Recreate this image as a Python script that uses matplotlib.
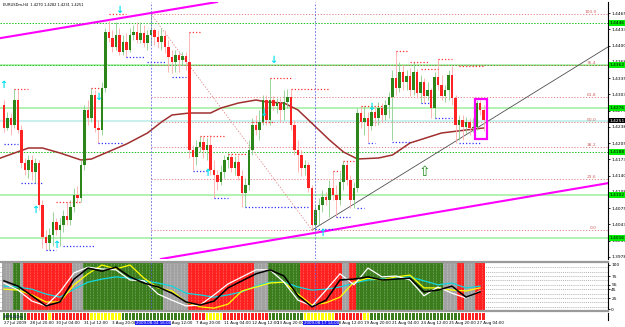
import numpy as np
import matplotlib
matplotlib.use("Agg")
import matplotlib.pyplot as plt
from matplotlib.patches import Rectangle
from matplotlib.transforms import blended_transform_factory as blend

# ─── Data: EURUSDm H4, prices as pips above 1.4000 ─────────────────────────
BASE = 1.4000
closes = [236, 256, 242, 292, 232, 166, 152, 172, 148, 166,
          82, 18, 6, 22, 48, 32, 42, 60, 52, 78,
          102, 96, 162, 272, 256, 302, 236, 232, 316, 428,
          416, 398, 422, 388, 408, 392, 422, 428, 412, 426,
          406, 422, 432, 418, 408, 420, 398, 378, 368, 382,
          372, 380, 368, 192, 178, 198, 208, 192, 202, 152,
          142, 128, 148, 172, 178, 156, 168, 140, 106, 122,
          192, 242, 232, 248, 292, 252, 292, 280, 286, 272,
          288, 298, 242, 192, 182, 156, 162, 116, 42, 72,
          82, 98, 92, 116, 102, 92, 128, 162, 132, 92,
          116, 266, 248, 256, 240, 268, 256, 276, 262, 282,
          298, 336, 316, 348, 328, 340, 312, 348, 306, 328,
          300, 312, 276, 338, 322, 300, 312, 342, 296, 242,
          252, 238, 248, 236, 238, 286, 272, 251]
highs = [292, 268, 266, 314, 312, 242, 176, 182, 182, 176,
         172, 92, 32, 36, 68, 56, 56, 72, 88, 92,
         116, 120, 172, 282, 292, 316, 312, 252, 328, 436,
         452, 432, 448, 436, 422, 426, 436, 442, 448, 448,
         442, 432, 464, 436, 432, 436, 432, 412, 392, 392,
         388, 388, 388, 428, 202, 212, 220, 220, 216, 222,
         172, 152, 162, 182, 186, 184, 180, 182, 152, 136,
         212, 256, 262, 272, 302, 302, 336, 300, 296, 296,
         312, 314, 314, 252, 212, 192, 172, 168, 122, 82,
         96, 112, 108, 132, 150, 122, 148, 170, 170, 142,
         128, 276, 280, 280, 268, 278, 278, 288, 286, 292,
         308, 352, 390, 368, 362, 352, 356, 368, 354, 342,
         336, 328, 316, 348, 374, 342, 322, 352, 360, 302,
         262, 262, 258, 256, 256, 292, 292, 282]
lows = [228, 232, 222, 236, 226, 156, 142, 136, 132, 126,
        72, -4, -8, -8, 0, 22, 0, 28, 42, 42,
        68, 86, 88, 152, 242, 248, 228, 206, 222, 308,
        408, 388, 392, 382, 382, 378, 388, 412, 406, 406,
        398, 392, 402, 402, 396, 392, 386, 348, 346, 348,
        348, 362, 352, 176, 152, 162, 188, 176, 172, 142,
        96, 112, 122, 136, 156, 148, 142, 132, 78, 78,
        112, 182, 222, 212, 242, 242, 242, 272, 266, 248,
        252, 276, 232, 182, 148, 140, 142, 108, 32, 32,
        42, 68, 82, 58, 92, 58, 82, 112, 122, 76,
        76, 108, 236, 222, 208, 232, 240, 242, 248, 252,
        256, 212, 302, 308, 312, 312, 300, 302, 296, 286,
        286, 292, 256, 256, 312, 292, 288, 292, 282, 206,
        212, 212, 226, 222, 228, 232, 262, 231]
first_open = 282
opens = [first_open] + closes[:-1]

# moving average (bar, pips)
ma_bars = [-1, 3, 7, 11, 16, 22, 25, 29, 35, 41, 45, 48, 53, 59, 62, 67,
           72, 75, 80, 84, 87, 90, 93, 97, 101, 107, 111, 116, 125, 132, 137]
ma_vals = [176, 186, 196, 196, 186, 172, 174, 186, 204, 226, 248, 262, 266,
           266, 276, 286, 292, 288, 286, 272, 252, 232, 212, 188, 174, 176,
           182, 206, 226, 232, 236]

# horizontal levels (pips)
green_dotted = [446, 362, 188]
pale_green = [362, 276, 102, 16]
boxed_levels = [446, 362, 276, 188, 102, 16]
fib_high, fib_low = 464, 32
fib_bars = (42, 88)
fib_levels = [100.0, 76.4, 61.8, 50.0, 38.2, 23.6, 0.0]
separators = [42, 89]

# trend lines ((bar, pips), (bar, pips))
upper_channel = ((0, 417), (60, 487))
lower_channel = ((44, -27), (172, 125))
black_trend = ((88, 32), (173, 400))

# fractal markers: (start bar, end bar, pips)
red_dots = [(30, 35, 464), (53, 56, 428), (3, 7, 314), (25, 28, 316), (76, 82, 336),
            (82, 93, 314), (112, 115, 390), (71, 77, 248), (102, 109, 280),
            (116, 121, 368), (119, 124, 354), (124, 128, 374), (130, 137, 360),
            (15, 22, 88), (56, 63, 220), (64, 70, 184), (94, 96, 150), (97, 100, 170)]
blue_dots = [(35, 40, 378), (41, 46, 368), (48, 52, 338), (0, 4, 204), (5, 11, 126),
             (12, 15, -8), (17, 26, 0), (27, 34, 206), (54, 58, 150), (60, 64, 96),
             (69, 87, 78), (95, 99, 58), (101, 103, 76), (104, 106, 206), (111, 116, 208),
             (89, 94, 34), (119, 122, 286), (123, 128, 256), (130, 136, 206)]
arrows_down = [(33, 472), (27, 298), (77, 372), (74, 266), (105, 278)]
arrows_up = [(-0.3, 322), (9, 72), (15, 2), (58, 146), (91, 26)]
signal_up = (120, 148)
box_bars, box_pips = (134.6, 138.0), (214, 294)

price_ticks = [1.4465, 1.4433, 1.4400, 1.4368, 1.4335, 1.4303, 1.4270, 1.4238,
               1.4205, 1.4173, 1.4140, 1.4108, 1.4075, 1.4043, 1.4010, 1.3978]

# oscillator panel (sampled every 4 bars)
ind_bars = list(range(0, 137, 4))
osc_black = [64, 52, 30, 7, 16, 68, 93, 86, 95, 73, 59, 50, 36, 16, 9, 18, 48, 64,
             80, 89, 75, 30, 5, 20, 66, 68, 73, 66, 68, 70, 39, 43, 52, 27, 39]
osc_white = [59, 43, 18, 7, 39, 82, 95, 91, 89, 66, 64, 34, 20, 7, 9, 32, 57, 73,
             89, 89, 61, 20, 7, 43, 80, 55, 93, 73, 75, 66, 30, 50, 36, 25, 41]
osc_cyan = [52, 50, 45, 34, 27, 45, 61, 68, 73, 70, 64, 59, 52, 36, 32, 27, 32, 39,
            52, 61, 61, 50, 43, 45, 50, 59, 66, 68, 70, 73, 64, 55, 59, 48, 52]
osc_yellow = [45, 43, 32, 16, 16, 55, 80, 100, 91, 100, 70, 48, 41, 16, 5, 2, 11, 41,
              50, 59, 61, 34, 9, 14, 27, 61, 70, 66, 73, 77, 48, 48, 43, 41, 48]
osc_levels = [5, 15, 25, 35, 45, 55, 65, 75, 85, 95]
osc_ticks = [100, 75, 55, 45, 25, 0]
bg_runs = [("gray", 3), ("green", 2), ("gray", 1), ("red", 14), ("gray", 3), ("green", 23),
           ("gray", 7), ("red", 19), ("gray", 4), ("green", 9), ("red", 12), ("gray", 2),
           ("red", 2), ("green", 25), ("gray", 4), ("red", 2), ("gray", 3), ("red", 3)]
strip_runs = [("green", 7), ("red", 6), ("yellow", 1), ("red", 11), ("yellow", 9),
              ("green", 20), ("red", 4), ("yellow", 5), ("red", 13), ("green", 10),
              ("yellow", 9), ("red", 8), ("yellow", 2), ("green", 26), ("red", 7)]

date_bars = [0, 7.4, 15, 23, 31, 47, 55, 63, 71, 78.0, 95, 103, 111, 119, 127, 135]
date_labels = ["27 Jul 2009", "28 Jul 20:00", "30 Jul 04:00", "31 Jul 12:00",
               "3 Aug 20:00", "6 Aug 12:00", "7 Aug 20:00", "11 Aug 04:00",
               "12 Aug 12:00", "13 Aug 20:00", "18 Aug 12:00", "19 Aug 20:00",
               "21 Aug 04:00", "24 Aug 12:00", "25 Aug 20:00", "27 Aug 04:00"]
sep_labels = ["2009.08.04 16:00", "2009.08.17 14:00"]
sep_label_bars = [42.6, 90.6]
title = "EURUSDm,H4  1.4270 1.4282 1.4231 1.4251"

# ─── Colours ─────────────────────────────────────────────────────────────
COL = {"red": "#ff2020", "green": "#3b7d1c", "gray": "#a2a2a2", "yellow": "#ffff00"}
BULL, BEAR = "#2c8518", "#ff2222"
SMALL = 3.2


def P(v):
    return BASE + np.asarray(v, dtype=float) / 10000.0


# ─── Figure layout (pixel boxes) ─────────────────────────────────────────
W, H = 625, 327
fig = plt.figure(figsize=(W / 100, H / 100), dpi=100)
fig.patch.set_facecolor("white")


def box(x0, y0, x1, y1):
    return [x0 / W, 1 - y1 / H, (x1 - x0) / W, (y1 - y0) / H]


ax = fig.add_axes(box(0, 2, 608, 259))
axi = fig.add_axes(box(0, 262, 608, 311))
axs = fig.add_axes(box(0, 313, 608, 320))
XL = (-1.14, 172.57)
for a in (ax, axi, axs):
    a.set_xlim(*XL)
    for s in ("left", "top", "bottom"):
        a.spines[s].set_visible(False)
    a.spines["right"].set_linewidth(0.8)
    a.set_xticks([])

# ─── Main price panel ────────────────────────────────────────────────────
ax.set_ylim(P(-26), P(488))
ax.yaxis.tick_right()
ax.set_yticks(price_ticks)
ax.set_yticklabels([f"{t:.4f}" for t in price_ticks])
ax.tick_params(axis="y", labelsize=SMALL, length=1.5, pad=0.8, width=0.6)

xr = np.arange(len(closes))
o, c, h, l = (np.array(v, dtype=float) for v in (opens, closes, highs, lows))
span = (fib_bars[0], XL[1])

for lv in pale_green:
    ax.axhline(P(lv), color="#b2f2b2", lw=1.4, zorder=1)
for lv in green_dotted:
    ax.axhline(P(lv), color="#22c022", lw=0.7, ls=(0, (1.5, 1.5)), zorder=1.2)
ax.axhline(P(closes[-1]), color="#c0eeea", lw=1.2, zorder=1)

for lv in fib_levels:
    yv = P(fib_low + (fib_high - fib_low) * lv / 100)
    ax.hlines(yv, *span, color="#e07878", lw=0.6, ls=(0, (1.5, 2)), zorder=1.3)
    ax.text(169.3, yv, f"{lv:.1f}", fontsize=SMALL, color="#d06060", ha="right",
            va="bottom")
ax.plot(fib_bars, P([fib_high, fib_low]), color="#e08080", lw=0.6,
        ls=(0, (1.5, 2)), zorder=1.3)

for b in separators:
    for a in (ax, axi):
        a.axvline(b, color="#6060e0", lw=0.6, ls=(0, (2, 2)), zorder=5)

for (b0, v0), (b1, v1) in (upper_channel, lower_channel):
    ax.axline((b0, P(v0)), (b1, P(v1)), color="#ff00ff", lw=1.5, zorder=2)
ax.plot([black_trend[0][0], black_trend[1][0]], P([black_trend[0][1], black_trend[1][1]]),
        color="#505050", lw=0.6, zorder=2)

ax.plot(ma_bars, P(ma_vals), color="#a03030", lw=1.1, zorder=3)

for b0, b1, v in red_dots:
    ax.hlines(P(v), b0, b1, color="#ff3030", lw=0.9, ls=(0, (1, 1.6)), zorder=4)
for b0, b1, v in blue_dots:
    ax.hlines(P(v), b0, b1, color="#3030ff", lw=0.9, ls=(0, (1, 1.6)), zorder=4)

up = c >= o
ax.vlines(xr[up], P(l[up]), P(h[up]), color="#8ccc8c", lw=0.6, zorder=3.5)
ax.vlines(xr[~up], P(l[~up]), P(h[~up]), color="#ffa8a8", lw=0.6, zorder=3.5)
body = np.where(np.abs(c - o) < 1.5, 1.5, c - o) / 10000
ax.bar(xr, body, bottom=P(o), width=0.78, color=np.where(up, BULL, BEAR),
       linewidth=0, zorder=4)

for b, v in arrows_down:
    ax.text(b, P(v), "\u2193", color="#00e0f0", fontsize=7, fontweight="bold",
            ha="center", va="center", zorder=6)
for b, v in arrows_up:
    ax.text(b, P(v), "\u2191", color="#00e0f0", fontsize=7, fontweight="bold",
            ha="center", va="center", zorder=6, clip_on=True)
ax.text(signal_up[0], P(signal_up[1]), "\u21e7", color="#1a8a1a", fontsize=10,
        ha="center", va="center", zorder=6)
ax.add_patch(Rectangle((box_bars[0], P(box_pips[0])), box_bars[1] - box_bars[0],
                       (box_pips[1] - box_pips[0]) / 10000, fill=False,
                       ec="#ff00ff", lw=1.6, zorder=7))

tr = blend(ax.transAxes, ax.transData)
for lv in boxed_levels:
    ax.text(1.003, P(lv), f"{P(lv):.4f}", transform=tr, fontsize=SMALL, va="center",
            ha="left", color="black", clip_on=False,
            bbox=dict(boxstyle="square,pad=0.12", fc="#00ee00", ec="none"))
ax.text(1.003, P(closes[-1]), f"{P(closes[-1]):.4f}", transform=tr, fontsize=SMALL,
        va="center", ha="left", color="white", clip_on=False,
        bbox=dict(boxstyle="square,pad=0.12", fc="black", ec="none"))

fig.text(3 / W, 1 - 3 / H, title, fontsize=2.6, ha="left", va="top", color="black")

# ─── Oscillator panel ────────────────────────────────────────────────────
axi.set_ylim(-4.5, 106.8)
bg = [col for col, n in bg_runs for _ in range(n)]
axi.bar(xr, 120, bottom=-10, width=1.0, color=[COL[k] for k in bg], linewidth=0,
        zorder=1)
axi.vlines(xr + 0.5, -4.5, 106.8, color="white", lw=0.45, ls=(0, (1, 1.5)),
           alpha=0.55, zorder=1.5)
for lv in osc_levels:
    axi.axhline(lv, color="#9a9a9a", lw=0.5, ls=(0, (1.5, 1.5)), zorder=0.5)
axi.plot(ind_bars, osc_cyan, color="#10d8e0", lw=0.9, zorder=3)
axi.plot(ind_bars, osc_yellow, color="#ffff00", lw=0.9, zorder=3)
axi.plot(ind_bars, osc_white, color="white", lw=0.9, zorder=3)
axi.plot(ind_bars, osc_black, color="black", lw=1.1, zorder=3.2)
axi.yaxis.tick_right()
axi.set_yticks(osc_ticks)
axi.tick_params(axis="y", labelsize=SMALL, length=1.5, pad=0.8, width=0.6)
for s in ("top", "bottom"):
    axi.spines[s].set_visible(True)
    axi.spines[s].set_color("#9a9a9a")
    axi.spines[s].set_linewidth(1.6)

# ─── Signal strip + date axis ────────────────────────────────────────────
axs.set_ylim(0, 1)
axs.set_yticks([])
strip = [col for col, n in strip_runs for _ in range(n)]
axs.bar(xr, 1, width=0.85, color=[COL[k] for k in strip], linewidth=0)
axs.text(0.0, 0.5, "EURUSDm", fontsize=2.8, color="#102060", ha="left",
         va="center")

trd = blend(axs.transData, fig.transFigure)
for b, lab in zip(date_bars, date_labels):
    axs.text(b, 1 - 321 / H, lab, transform=trd, fontsize=2.9, ha="left", va="top",
             color="black")
for b, lab in zip(sep_label_bars, sep_labels):
    axs.text(b, 1 - 321 / H, lab, transform=trd, fontsize=2.9, ha="center",
             va="top", color="white",
             bbox=dict(boxstyle="square,pad=0.1", fc="#2020f0", ec="none"))

fig.savefig("out.png", dpi=100)
